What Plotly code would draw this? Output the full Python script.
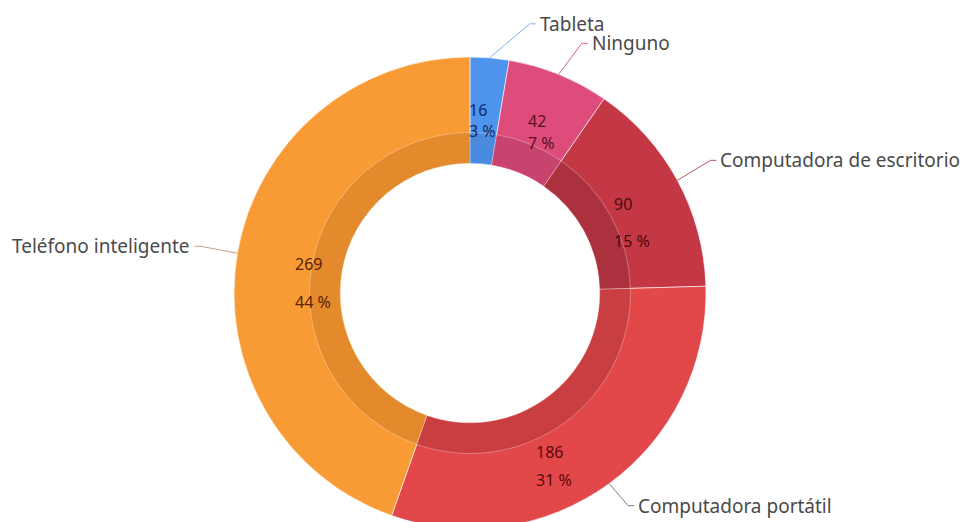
import math
import plotly.graph_objects as go

# datos
categorias = ["Tableta", "Ninguno", "Computadora de escritorio",
              "Computadora portátil", "Teléfono inteligente"]
valores = [16, 42, 90, 186, 269]
porcentajes = ["3 %", "7 %", "15 %", "31 %", "44 %"]

colores = ["#4E93EC", "#DE4C7C", "#C43845", "#E24749", "#F99B34"]
colores_banda = ["#4A8BE0", "#C8446F", "#AC313E", "#C93E40", "#E38A2C"]
colores_texto = ["#132a66", "#5a0f22", "#4a0a10", "#5a0a0a", "#5a2200"]
colores_linea = ["#7FB0EE", "#D0608A", "#B05A64", "#8A7A7A", "#C8A080"]

################################################## geometria (pixeles de la figura)
# la pagina deja 8px de margen en el body, se compensa aqui
W, H = 970, 522
cx, cy, R = 462, 285, 236
hueco = 0.55      # radio del hueco blanco / R
banda = 0.68      # radio exterior de la banda oscura / R


def px_a_paper(x, y):
    return x / W, 1 - y / H


def punto(ang, r):
    a = math.radians(ang)
    return cx + r * math.sin(a), cy - r * math.cos(a)


total = sum(valores)
acum = 0
medios = []
for v in valores:
    medios.append((acum + v / 2) / total * 360)
    acum += v

fig = go.Figure()

fig.add_trace(go.Pie(
    labels=categorias, values=valores, sort=False, direction="clockwise",
    rotation=0, hole=hueco, textinfo="none", hoverinfo="label+value",
    marker=dict(colors=colores, line=dict(color="rgba(255,255,255,0.6)", width=1)),
    domain=dict(x=[(cx - R) / W, (cx + R) / W], y=[(H - cy - R) / H, (H - cy + R) / H]),
    showlegend=False,
))

rb = R * banda
fig.add_trace(go.Pie(
    labels=categorias, values=valores, sort=False, direction="clockwise",
    rotation=0, hole=hueco / banda, textinfo="none", hoverinfo="skip",
    marker=dict(colors=colores_banda, line=dict(color="rgba(255,255,255,0.3)", width=1)),
    domain=dict(x=[(cx - rb) / W, (cx + rb) / W], y=[(H - cy - rb) / H, (H - cy + rb) / H]),
    showlegend=False,
))

################################################## textos internos
ajuste_ang = [-1.8, 0.8, 3.9, 12.4, -6.2]
radio_txt = [0.73, 0.74, 0.72, 0.80, 0.70]
separacion = [21, 22, 37, 28, 38]
anots = []
for i in range(len(valores)):
    x, y = punto(medios[i] + ajuste_ang[i], R * radio_txt[i])
    for txt, dy in [(str(valores[i]), -separacion[i] / 2), (porcentajes[i], separacion[i] / 2)]:
        xp, yp = px_a_paper(x - 12, y + dy)
        anots.append(dict(x=xp, y=yp, xref="paper", yref="paper", text=txt,
                          showarrow=False, xanchor="left", yanchor="middle",
                          font=dict(family="Noto Sans", size=16, color=colores_texto[i])))

################################################## etiquetas externas
codo = [(40, -34), (23, -31), (33, -20), (19, 22), (-37, -7)]
shapes = []
for i in range(len(valores)):
    x0, y0 = punto(medios[i], R)
    x1, y1 = x0 + codo[i][0], y0 + codo[i][1]
    lado = 1 if codo[i][0] > 0 else -1
    x2 = x1 + 6 * lado
    p0, p1, p2 = px_a_paper(x0, y0), px_a_paper(x1, y1), px_a_paper(x2, y1)
    shapes.append(dict(type="path", xref="paper", yref="paper",
                       path=f"M {p0[0]},{p0[1]} L {p1[0]},{p1[1]} L {p2[0]},{p2[1]}",
                       line=dict(color=colores_linea[i], width=1)))
    xt, yt = px_a_paper(x2 + 2 * lado, y1)
    anots.append(dict(x=xt, y=yt, xref="paper", yref="paper", text=categorias[i],
                      showarrow=False, xanchor="left" if lado > 0 else "right",
                      yanchor="middle",
                      font=dict(family="Noto Sans", size=19, color="#4a4a4a")))

fig.update_layout(
    width=W, height=H,
    margin=dict(l=0, r=0, t=0, b=0),
    paper_bgcolor="white", plot_bgcolor="white",
    annotations=anots, shapes=shapes,
)

fig.write_html("out.html")
